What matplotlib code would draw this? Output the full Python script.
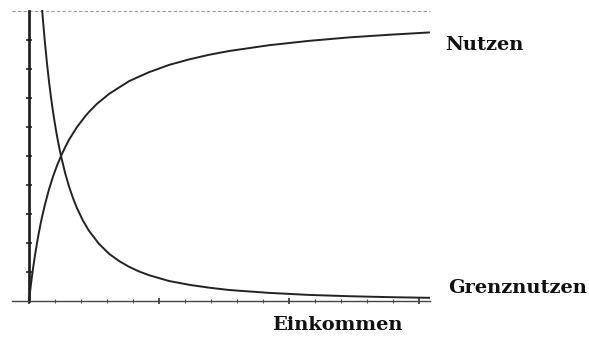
import numpy as np
import matplotlib
matplotlib.use('Agg')
import matplotlib.pyplot as plt

# Einkommen (x) und Werte
x_nutzen = [0, 0.25, 0.5, 0.75, 1, 1.5, 2, 2.5, 3, 3.5, 4, 5, 6, 7, 8, 9, 10, 12, 14, 15, 17,
            20, 25, 30, 35, 40, 45, 50, 60, 70, 80, 90, 100]
nutzen   = [0, 0.30, 0.59, 0.86, 1.11, 1.58, 2.0, 2.38, 2.73, 3.04, 3.33, 3.85, 4.29, 4.67,
            5.0, 5.29, 5.56, 6.0, 6.36, 6.52, 6.8, 7.14, 7.58, 7.89, 8.14, 8.33, 8.49, 8.62,
            8.82, 8.97, 9.09, 9.18, 9.26]

x_grenz = [3.3, 3.6, 4, 4.5, 5, 5.5, 6, 6.5, 7, 7.5, 8, 9, 10, 11, 12, 13.5, 15, 17.5, 20,
           22.5, 25, 27.5, 30, 35, 40, 45, 50, 60, 70, 80, 90, 100]
grenz   = [10.0, 9.51, 8.89, 8.19, 7.57, 7.02, 6.53, 6.09, 5.69, 5.33, 5.0, 4.43, 3.95, 3.55,
           3.2, 2.77, 2.42, 1.97, 1.63, 1.38, 1.18, 1.02, 0.89, 0.69, 0.56, 0.46, 0.38, 0.28,
           0.21, 0.165, 0.133, 0.11]

labels = ['Nutzen', 'Grenznutzen', 'Einkommen']

fig = plt.figure(figsize=(5.89, 3.38), dpi=100)
ax = fig.add_axes([12/589, 37/338, 418/589, 290/338])
ax.set_xlim(-4.25, 100.25)
ax.set_ylim(0, 10)

for s in ['top', 'right']:
    ax.spines[s].set_visible(False)
ax.spines['left'].set_position(('data', 0))
ax.spines['left'].set_linewidth(2.0)
ax.spines['left'].set_color('#222222')
ax.spines['bottom'].set_linewidth(1.0)
ax.spines['bottom'].set_color('#444444')

ax.set_yticks(np.arange(1, 10))
ax.set_xticks([0, 32.5, 65, 97.5])
ax.set_xticks(np.arange(6.5, 100, 6.5), minor=True)
ax.tick_params(axis='y', direction='inout', length=5, width=1.2, color='#222222', labelleft=False)
ax.tick_params(axis='x', which='major', direction='inout', length=5, width=1.2, color='#333333', labelbottom=False)
ax.tick_params(axis='x', which='minor', direction='inout', length=3, width=0.8, color='#555555')

# gestrichelte Linie oben
ax.plot([-4.25, 100.25], [10, 10], color='#999999', lw=0.8, ls=(0, (3, 2)), clip_on=False)

ax.plot(x_nutzen, nutzen, color='#222222', lw=1.4, clip_on=False)
ax.plot(x_grenz, grenz, color='#222222', lw=1.4, clip_on=False)

fnt = dict(family='DejaVu Serif', fontweight='bold', fontsize=14, color='#111111')
ax.text(104, 8.83, labels[0], va='center', ha='left', clip_on=False, **fnt)
ax.text(104.75, 0.45, labels[1], va='center', ha='left', clip_on=False, **fnt)
ax.text(60.75, -0.83, labels[2], va='center', ha='left', clip_on=False, **fnt)

fig.savefig('out.png', dpi=100)
